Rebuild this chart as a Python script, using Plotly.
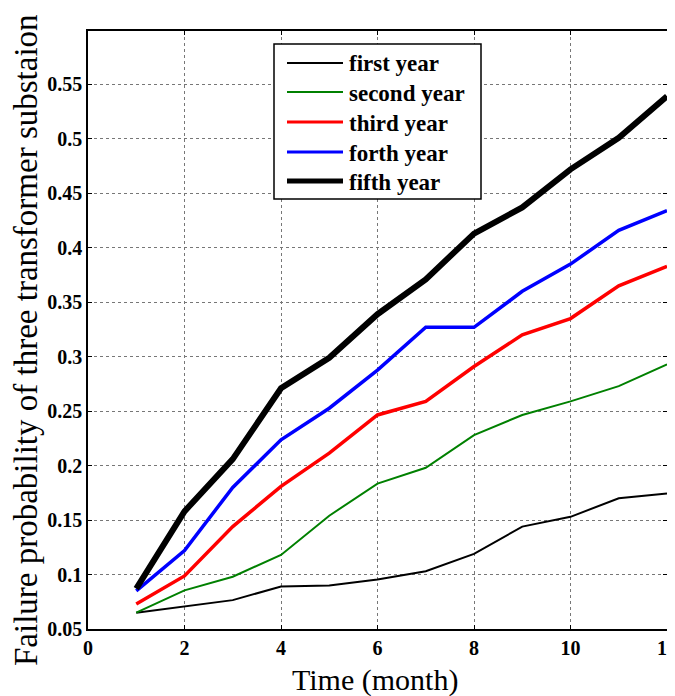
import plotly.graph_objects as go

months = [1, 2, 3, 4, 5, 6, 7, 8, 9, 10, 11, 12]
first_year = [0.065, 0.071, 0.0765, 0.089, 0.090, 0.0955, 0.103, 0.119, 0.144, 0.153, 0.170, 0.1745]
second_year = [0.065, 0.0855, 0.098, 0.118, 0.154, 0.1835, 0.198, 0.228, 0.2465, 0.259, 0.273, 0.293]
third_year = [0.073, 0.0987, 0.144, 0.181, 0.2115, 0.2465, 0.259, 0.291, 0.320, 0.335, 0.365, 0.383]
forth_year = [0.085, 0.122, 0.180, 0.2237, 0.2527, 0.2877, 0.327, 0.327, 0.360, 0.385, 0.416, 0.434]
fifth_year = [0.087, 0.158, 0.206, 0.271, 0.299, 0.339, 0.371, 0.413, 0.437, 0.472, 0.501, 0.539]

series_names = ["first year", "second year", "third year", "forth year", "fifth year"]
series_values = [first_year, second_year, third_year, forth_year, fifth_year]
colors = ["#000000", "#008000", "#FF0000", "#0000FF", "#000000"]
widths = [2, 2, 3.5, 3.5, 6]
legend_widths = [2, 2, 3, 3, 5]

x_ticks = [0, 2, 4, 6, 8, 10, 12]
y_ticks = [0.05, 0.1, 0.15, 0.2, 0.25, 0.3, 0.35, 0.4, 0.45, 0.5, 0.55]
y_tick_text = ["0.05", "0.1", "0.15", "0.2", "0.25", "0.3", "0.35", "0.4", "0.45", "0.5", "0.55"]

x_title = "Time (month)"
y_title = "Failure probability of three transformer substaion"

# the page body has an 8px default margin, so lay out in page pixels minus 8
OFF = 8
PAGE_W, PAGE_H = 675, 696
W, H = PAGE_W - OFF, PAGE_H - OFF
L, R, T, B = 88 - OFF, 667 - OFF, 31 - OFF, 629 - OFF
FONT = "Liberation Serif, Times New Roman, serif"

fig = go.Figure()
for name, vals, c, w in zip(series_names, series_values, colors, widths):
    fig.add_trace(go.Scatter(x=months, y=vals, mode="lines", name=name,
                             line=dict(color=c, width=w), showlegend=False))

def px(xp):
    return (xp - OFF - L) / (R - L)

def py(yp):
    return (B - (yp - OFF)) / (B - T)

shapes = [dict(type="rect", xref="paper", yref="paper",
               x0=px(274), x1=px(481), y0=py(199), y1=py(44),
               line=dict(color="black", width=1.5), fillcolor="white", layer="above")]
annotations = []
legend_y = [63, 92, 122, 152, 181]
for name, c, lw, yy in zip(series_names, colors, legend_widths, legend_y):
    shapes.append(dict(type="line", xref="paper", yref="paper",
                       x0=px(287), x1=px(343), y0=py(yy), y1=py(yy),
                       line=dict(color=c, width=lw), layer="above"))
    annotations.append(dict(xref="paper", yref="paper", x=px(347), y=py(yy + 1),
                            xanchor="left", yanchor="middle", showarrow=False,
                            text="<b>" + name + "</b>",
                            font=dict(family=FONT, size=23, color="black")))

annotations.append(dict(xref="paper", yref="paper", x=px(375), y=py(680),
                        xanchor="center", yanchor="middle", showarrow=False,
                        text=x_title, font=dict(family=FONT, size=30, color="black")))
annotations.append(dict(xref="paper", yref="paper", x=px(26), y=py(340),
                        xanchor="center", yanchor="middle", showarrow=False, textangle=-90,
                        text=y_title, font=dict(family=FONT, size=33, color="black")))

axis_common = dict(showline=True, linecolor="black", linewidth=1.5, mirror="ticks",
                   ticks="inside", ticklen=4, tickcolor="black", tickwidth=1,
                   showgrid=True, gridcolor="#777777", gridwidth=1, griddash="dot",
                   zeroline=False, automargin=False, ticklabeloverflow="allow",
                   tickfont=dict(family=FONT, size=20, color="black"))

fig.update_layout(
    width=W, height=H,
    margin=dict(l=L, r=W - R, t=T, b=H - B),
    paper_bgcolor="white", plot_bgcolor="white",
    shapes=shapes, annotations=annotations,
    xaxis=dict(range=[0, 12], tickvals=x_ticks,
               ticktext=["<b>%d</b>" % v for v in x_ticks],
               **axis_common),
    yaxis=dict(range=[0.05, 0.599], tickvals=y_ticks,
               ticktext=["<b>%s</b>" % t for t in y_tick_text],
               **axis_common),
)

fig.write_html("out.html")
